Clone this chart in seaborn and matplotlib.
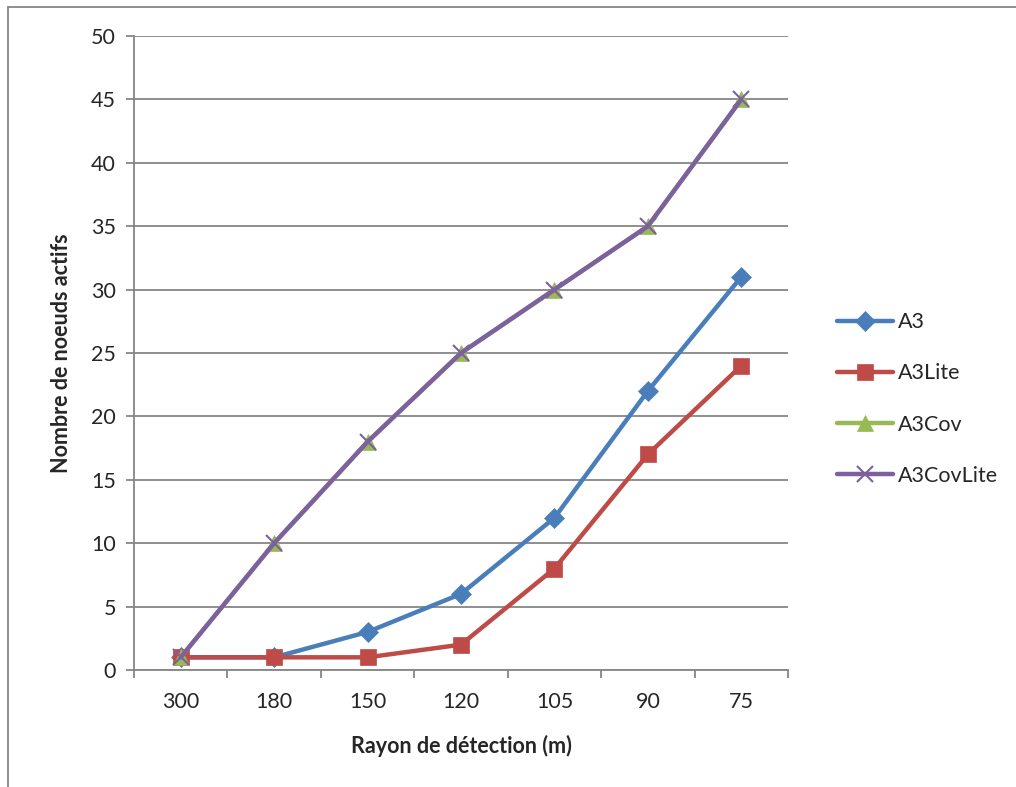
import matplotlib
matplotlib.use("Agg")
import matplotlib.pyplot as plt
from matplotlib.lines import Line2D
import seaborn as sns
import pandas as pd
import numpy as np

rayons = ["300", "180", "150", "120", "105", "90", "75"]
a3 = [1, 1, 3, 6, 12, 22, 31]
a3_lite = [1, 1, 1, 2, 8, 17, 24]
a3_cov = [1, 10, 18, 25, 30, 35, 45]
a3_cov_lite = [1, 10, 18, 25, 30, 35, 45]

series = [
    ("A3", a3, "#4A7EBB", "D", 10.5),
    ("A3Lite", a3_lite, "#BE4B48", "s", 11.5),
    ("A3Cov", a3_cov, "#98B954", "^", 12),
    ("A3CovLite", a3_cov_lite, "#7D60A0", "x", 11),
]

sns.set_style("white")
plt.rcParams['font.family'] = ['Lato', 'DejaVu Sans']

fig = plt.figure(figsize=(10.16, 7.87), dpi=100)
ax = fig.add_axes([134 / 1016, 1 - 670 / 787, 654 / 1016, 634 / 787])

grid_col = "#868686"
lw = 3.2
for name, vals, col, mk, ms in series:
    df = pd.DataFrame({"rayon": rayons, "n": vals})
    sns.lineplot(data=df, x="rayon", y="n", ax=ax, color=col, linewidth=lw,
                 marker=mk, markersize=ms, markeredgecolor=col,
                 markeredgewidth=1.5 if mk == "x" else 0.5, label=name,
                 zorder=3, legend=False)

ax.set_xlim(-0.5, len(rayons) - 0.5)
ax.set_ylim(0, 50)
ax.set_yticks(np.arange(0, 51, 5))
ax.set_xticks(range(len(rayons)))
ax.set_xticklabels(rayons)
ax.set_xticks(np.arange(-0.5, len(rayons), 1), minor=True)
ax.yaxis.grid(True, color=grid_col, linewidth=1.3)
ax.set_axisbelow(True)
for s in ["top", "right"]:
    ax.spines[s].set_visible(False)
for s in ["left", "bottom"]:
    ax.spines[s].set_color(grid_col)
    ax.spines[s].set_linewidth(1.3)
ax.tick_params(axis="y", which="major", left=True, length=6, width=1.3,
               color=grid_col, labelsize=15.5, pad=7)
ax.tick_params(axis="x", which="major", bottom=False, length=0, labelsize=15.5, pad=16)
ax.tick_params(axis="x", which="minor", bottom=True, length=6, width=1.3, color=grid_col)

ax.set_xlabel("Rayon de détection (m)", fontsize=15.5, fontweight="bold", labelpad=16)
ax.set_ylabel("Nombre de noeuds actifs", fontsize=15.5, fontweight="bold", labelpad=14)

handles = [Line2D([], [], color=col, linewidth=lw, marker=mk, markersize=ms,
                  markeredgecolor=col, markeredgewidth=1.5 if mk == "x" else 0.5)
           for name, vals, col, mk, ms in series]
fig.legend(handles, [s[0] for s in series], loc="center left",
           bbox_to_anchor=(818 / 1016, 1 - 399 / 787), frameon=False,
           fontsize=15.5, handlelength=2.6, labelspacing=1.45, handletextpad=0.2)

# outer chart border
fig.add_artist(Line2D([8 / 1016, 1], [1 - 7 / 787] * 2, color=grid_col, linewidth=1.3))
fig.add_artist(Line2D([8 / 1016] * 2, [0, 1 - 7 / 787], color=grid_col, linewidth=1.3))

fig.savefig("out.png", dpi=100)
